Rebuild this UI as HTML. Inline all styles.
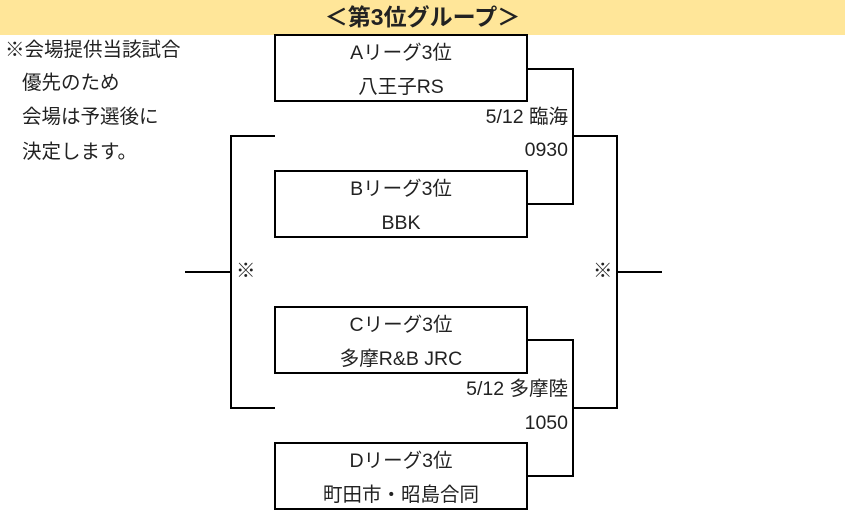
<!DOCTYPE html>
<html><head><meta charset="utf-8"><style>
body{margin:0;width:845px;height:513px;background:#fff;position:relative;overflow:hidden;font-family:"Liberation Sans","Noto Sans CJK JP",sans-serif;color:#222;font-size:19.5px}
.hd{position:absolute;left:0;top:0;width:845px;height:35px;background:#FFE699;text-align:center;font-weight:bold;font-size:23px;line-height:35px}
.b{position:absolute;left:274px;width:250px;height:64px;border:2px solid #000;text-align:center;line-height:34px}
.h{position:absolute;height:2px;background:#000}
.v{position:absolute;width:2px;background:#000}
.t{position:absolute;white-space:nowrap;line-height:20px}
</style></head><body>
<div class="hd">＜第3位グループ＞</div>
<div class="t" style="left:5px;top:40px">※会場提供当該試合</div>
<div class="t" style="left:22px;top:73px">優先のため</div>
<div class="t" style="left:22px;top:107px">会場は予選後に</div>
<div class="t" style="left:22px;top:142px">決定します。</div>
<div class="b" style="top:34px">Aリーグ3位<br>八王子RS</div>
<div class="b" style="top:170px">Bリーグ3位<br>BBK</div>
<div class="b" style="top:306px">Cリーグ3位<br>多摩R&amp;B JRC</div>
<div class="b" style="top:442px">Dリーグ3位<br>町田市・昭島合同</div>
<div class="h" style="left:528px;top:68px;width:46px"></div>
<div class="h" style="left:528px;top:203px;width:46px"></div>
<div class="v" style="left:572px;top:68px;height:137px"></div>
<div class="h" style="left:572px;top:135px;width:46px"></div>
<div class="h" style="left:528px;top:339px;width:46px"></div>
<div class="h" style="left:528px;top:475px;width:46px"></div>
<div class="v" style="left:572px;top:339px;height:138px"></div>
<div class="h" style="left:572px;top:407px;width:46px"></div>
<div class="v" style="left:616px;top:135px;height:274px"></div>
<div class="h" style="left:616px;top:271px;width:46px"></div>
<div class="h" style="left:230px;top:135px;width:45px"></div>
<div class="h" style="left:230px;top:407px;width:45px"></div>
<div class="v" style="left:230px;top:135px;height:274px"></div>
<div class="h" style="left:185px;top:271px;width:46px"></div>
<div class="t" style="right:277px;top:107px">5/12 臨海</div>
<div class="t" style="right:277px;top:140px">0930</div>
<div class="t" style="right:277px;top:379px">5/12 多摩陸</div>
<div class="t" style="right:277px;top:413px">1050</div>
<div class="t" style="left:236px;top:261px">※</div>
<div class="t" style="left:593px;top:261px">※</div>
</body></html>
